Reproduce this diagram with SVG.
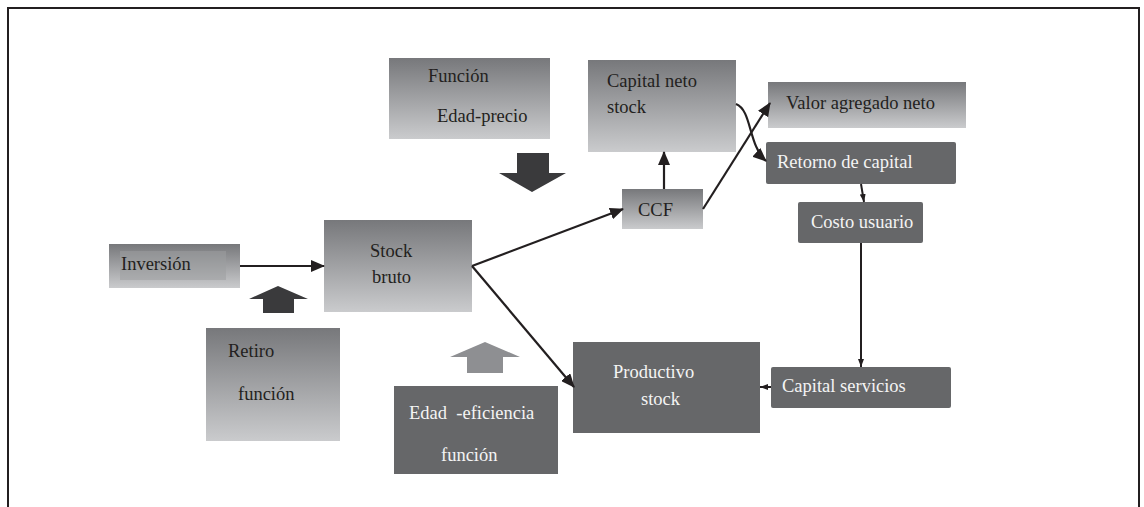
<svg xmlns="http://www.w3.org/2000/svg" width="1144" height="507" viewBox="0 0 1144 507" font-family="'Liberation Serif', 'Times New Roman', serif">
  <defs>
    <linearGradient id="grad" x1="0" y1="0" x2="0" y2="1">
      <stop offset="0" stop-color="#77787b"/>
      <stop offset="1" stop-color="#cacbcd"/>
    </linearGradient>
    <marker id="arrow" viewBox="0 0 14 12" refX="13" refY="6" markerWidth="14" markerHeight="12" markerUnits="userSpaceOnUse" orient="auto">
      <path d="M0,0 L14,6 L0,12 Z" fill="#231f20"/>
    </marker>
    <marker id="small" viewBox="0 0 8 6" refX="8" refY="3" markerWidth="8" markerHeight="6" markerUnits="userSpaceOnUse" orient="auto">
      <path d="M0,0 L8,3 L0,6 Z" fill="#231f20"/>
    </marker>
    <style>
      .grad { fill: url(#grad); }
      .dark { fill: #666769; }
      text { font-family: 'Liberation Serif', 'Times New Roman', serif; font-size: 18.5px; }
      .tdark { fill: #231f20; }
      .tlight { fill: #f4f4f4; }
      .conn { stroke: #231f20; stroke-width: 2.2; fill: none; }
      .thin { stroke: #231f20; stroke-width: 2; fill: none; }
    </style>
  </defs>

  <rect width="1144" height="507" fill="#ffffff"/>
  <!-- frame -->
  <path d="M8,507 L8,8 L1139,8 L1139,507" fill="none" stroke="#231f20" stroke-width="2"/>

  <g id="funcion-edad-precio">
    <rect class="grad" x="389" y="58" width="161" height="81"/>
    <text class="tdark" x="428" y="82">Función</text>
    <text class="tdark" x="437" y="122">Edad-precio</text>
  </g>

  <g id="capital-neto-stock">
    <rect class="grad" x="588" y="60" width="148" height="92"/>
    <text class="tdark" x="607" y="87">Capital neto</text>
    <text class="tdark" x="607" y="113">stock</text>
  </g>

  <g id="valor-agregado-neto">
    <rect class="grad" x="768" y="82" width="198" height="46"/>
    <text class="tdark" x="786" y="109">Valor agregado neto</text>
  </g>

  <g id="retorno-de-capital">
    <rect class="dark" x="766" y="142" width="190" height="42" rx="2"/>
    <text class="tlight" x="777" y="168">Retorno de capital</text>
  </g>

  <g id="costo-usuario">
    <rect class="dark" x="798" y="202" width="125" height="41" rx="2"/>
    <text class="tlight" x="811" y="228">Costo usuario</text>
  </g>

  <g id="ccf">
    <rect class="grad" x="622" y="189" width="81" height="40"/>
    <text class="tdark" x="638" y="216">CCF</text>
  </g>

  <g id="inversion">
    <rect class="grad" x="109" y="244" width="131" height="44"/>
    <rect x="120" y="251" width="106" height="29" fill="#9d9ea1" opacity="0.55"/>
    <text class="tdark" x="121" y="270">Inversión</text>
  </g>

  <g id="stock-bruto">
    <rect class="grad" x="324" y="220" width="148" height="92"/>
    <text class="tdark" x="370" y="257">Stock</text>
    <text class="tdark" x="372" y="283">bruto</text>
  </g>

  <g id="retiro-funcion">
    <rect class="grad" x="206" y="328" width="134" height="113"/>
    <text class="tdark" x="228" y="357">Retiro</text>
    <text class="tdark" x="238" y="400">función</text>
  </g>

  <g id="edad-eficiencia-funcion">
    <rect class="dark" x="394" y="386" width="164" height="88"/>
    <text class="tlight" x="409" y="419" xml:space="preserve">Edad  -eficiencia</text>
    <text class="tlight" x="441" y="461">función</text>
  </g>

  <g id="productivo-stock">
    <rect class="dark" x="573" y="342" width="187" height="91"/>
    <text class="tlight" x="613" y="378">Productivo</text>
    <text class="tlight" x="641" y="405">stock</text>
  </g>

  <g id="capital-servicios">
    <rect class="dark" x="771" y="367" width="180" height="41" rx="2"/>
    <text class="tlight" x="782" y="392">Capital servicios</text>
  </g>

  <!-- block arrows -->
  <g id="block-arrows">
    <path d="M517,153 L549,153 L549,173 L566,173 L532,192 L499,173 L517,173 Z" fill="#3a3a3c"/>
    <path d="M263,313 L294,313 L294,299 L308,299 L278,286 L249,299 L263,299 Z" fill="#3a3a3c"/>
    <path d="M467,373 L503,373 L503,357 L520,357 L485,342 L450,357 L467,357 Z" fill="#8e8f92"/>
  </g>

  <g id="connectors">
    <line class="conn" x1="240" y1="266" x2="324" y2="266" marker-end="url(#arrow)"/>
    <line class="conn" x1="472" y1="266" x2="623" y2="209" marker-end="url(#arrow)"/>
    <line class="conn" x1="472" y1="266" x2="574" y2="387" marker-end="url(#arrow)"/>
    <line class="conn" x1="664" y1="189" x2="664" y2="152" marker-end="url(#arrow)"/>
    <line class="conn" x1="703" y1="209" x2="770" y2="103" marker-end="url(#arrow)"/>
    <path class="conn" d="M736,104 C752,110 748,145 766,161" marker-end="url(#arrow)"/>
    <line class="thin" x1="861" y1="184" x2="864" y2="202" marker-end="url(#small)"/>
    <line class="thin" x1="861" y1="243" x2="861" y2="367" marker-end="url(#small)"/>
    <line class="thin" x1="771" y1="387" x2="760" y2="387" marker-end="url(#small)"/>
  </g>
</svg>
